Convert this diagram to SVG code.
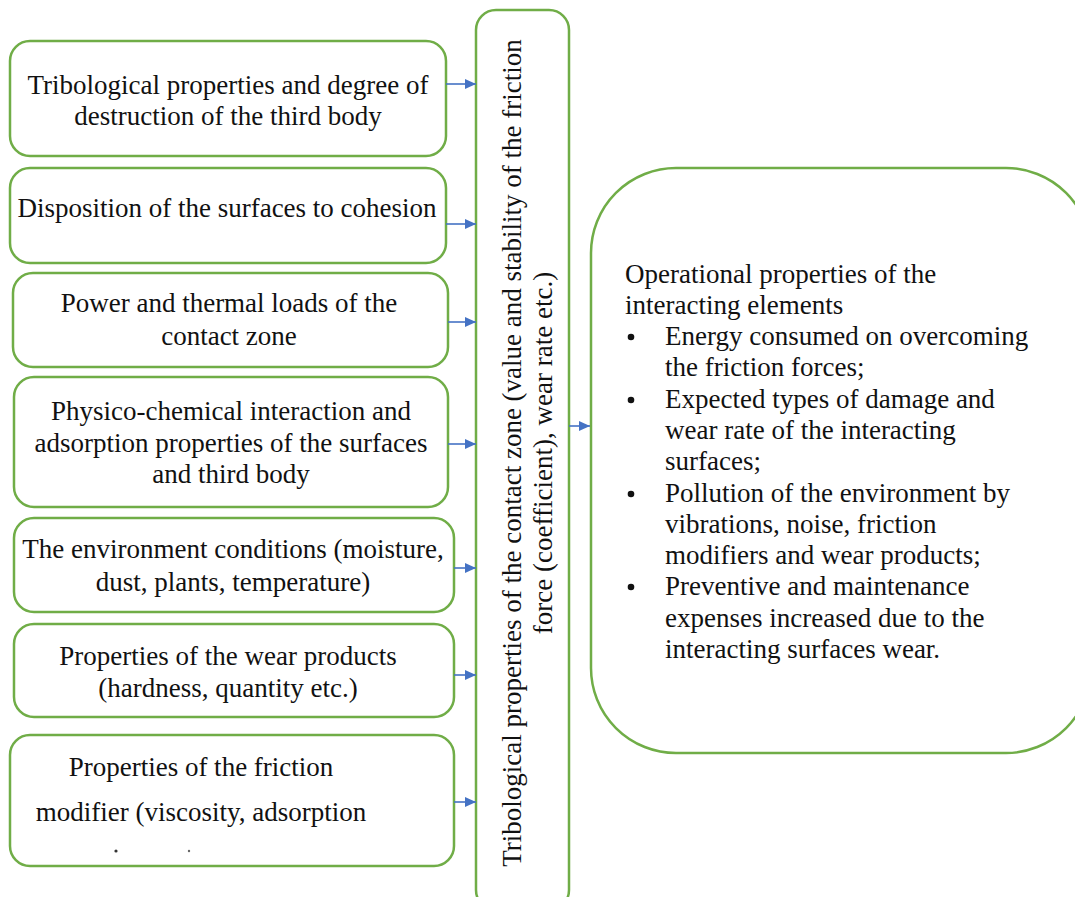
<svg xmlns="http://www.w3.org/2000/svg" width="1075" height="897" viewBox="0 0 1075 897">
<style>
.box{fill:#fff;stroke:#70AD47;stroke-width:2.5}
.t{font-family:"Liberation Serif","Times New Roman",serif;font-size:27px;fill:#111}
.c{text-anchor:middle}
.arr{stroke:#4472C4;stroke-width:1.6;fill:none;marker-end:url(#ah)}
</style>
<defs>
<marker id="ah" markerWidth="12" markerHeight="12" refX="11" refY="6" orient="auto" markerUnits="userSpaceOnUse">
<path d="M0,1 L11,6 L0,11 Z" fill="#4472C4"/>
</marker>
</defs>
<rect width="1075" height="897" fill="#fff"/>
<g id="n1"><rect class="box" x="10" y="41" width="436" height="115" rx="20"/>
<text class="t c" x="228" y="94">Tribological properties and degree of</text>
<text class="t c" x="228" y="125">destruction of the third body</text></g>
<g id="n2"><rect class="box" x="10" y="168" width="436" height="95" rx="20"/>
<text class="t c" x="227" y="217">Disposition of the surfaces to cohesion</text></g>
<g id="n3"><rect class="box" x="13" y="273" width="435" height="94" rx="20"/>
<text class="t c" x="229" y="312">Power and thermal loads of the</text>
<text class="t c" x="229" y="345">contact zone</text></g>
<g id="n4"><rect class="box" x="14" y="377" width="434" height="130" rx="20"/>
<text class="t c" x="231" y="420">Physico-chemical interaction and</text>
<text class="t c" x="231" y="452">adsorption properties of the surfaces</text>
<text class="t c" x="231" y="483">and third body</text></g>
<g id="n5"><rect class="box" x="14" y="518" width="440" height="94" rx="20"/>
<text class="t c" x="233" y="558">The environment conditions (moisture,</text>
<text class="t c" x="233" y="591">dust, plants, temperature)</text></g>
<g id="n6"><rect class="box" x="14" y="624" width="440" height="93" rx="20"/>
<text class="t c" x="228" y="665">Properties of the wear products</text>
<text class="t c" x="228" y="697">(hardness, quantity etc.)</text></g>
<g id="n7"><rect class="box" x="10" y="735" width="444" height="131" rx="20"/>
<text class="t c" x="201" y="776">Properties of the friction</text>
<text class="t c" x="201" y="821">modifier (viscosity, adsorption</text>
<circle cx="116" cy="851" r="1.6" fill="#333"/>
<circle cx="189" cy="851" r="1.2" fill="#666"/></g>
<g id="center"><rect class="box" x="476" y="10" width="93" height="900" rx="20"/>
<text class="t c" transform="translate(521,453) rotate(-90)">Tribological properties of the contact zone (value and stability of the friction</text>
<text class="t c" transform="translate(552,453) rotate(-90)">force (coefficient), wear rate etc.)</text></g>
<g id="result"><rect class="box" x="591" y="168" width="500" height="585" rx="85"/>
<text class="t" x="625" y="283">Operational properties of the</text>
<text class="t" x="625" y="314">interacting elements</text>
<circle cx="631" cy="337" r="3.3" fill="#111"/>
<circle cx="631" cy="400" r="3.3" fill="#111"/>
<circle cx="631" cy="494" r="3.3" fill="#111"/>
<circle cx="631" cy="587" r="3.3" fill="#111"/>
<text class="t" x="665" y="345">Energy consumed on overcoming</text>
<text class="t" x="665" y="376">the friction forces;</text>
<text class="t" x="665" y="408">Expected types of damage and</text>
<text class="t" x="665" y="439">wear rate of the interacting</text>
<text class="t" x="665" y="470">surfaces;</text>
<text class="t" x="665" y="502">Pollution of the environment by</text>
<text class="t" x="665" y="533">vibrations, noise, friction</text>
<text class="t" x="665" y="564">modifiers and wear products;</text>
<text class="t" x="665" y="595">Preventive and maintenance</text>
<text class="t" x="665" y="627">expenses increased due to the</text>
<text class="t" x="665" y="658">interacting surfaces wear.</text></g>
<g id="connectors">
<line class="arr" x1="446" y1="84" x2="476" y2="84"/>
<line class="arr" x1="446" y1="224" x2="476" y2="224"/>
<line class="arr" x1="448" y1="322" x2="476" y2="322"/>
<line class="arr" x1="448" y1="444" x2="476" y2="444"/>
<line class="arr" x1="454" y1="568" x2="476" y2="568"/>
<line class="arr" x1="454" y1="675" x2="476" y2="675"/>
<line class="arr" x1="454" y1="802" x2="476" y2="802"/>
<line class="arr" x1="569" y1="426" x2="590" y2="426"/>
</g>
</svg>
